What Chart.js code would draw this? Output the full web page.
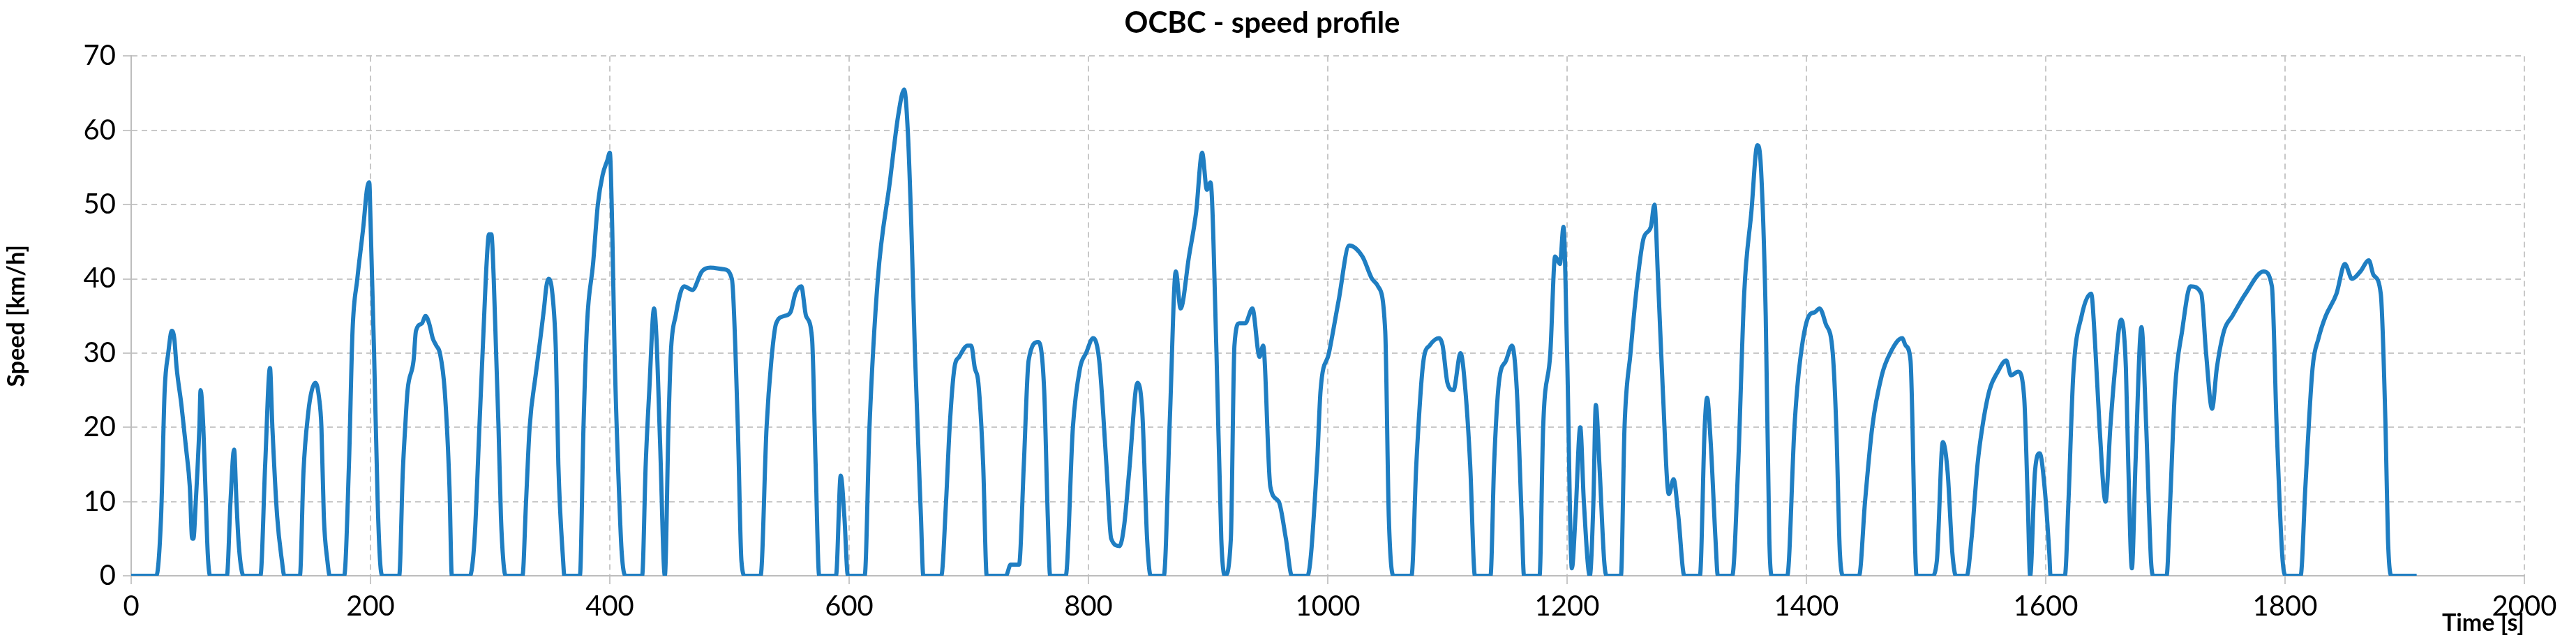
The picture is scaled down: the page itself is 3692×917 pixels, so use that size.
<!DOCTYPE html>
<html>
<head>
<meta charset="utf-8">
<script src="https://cdn.jsdelivr.net/npm/chart.js@4/dist/chart.umd.min.js"></script>
<style>
  html, body { margin: 0; padding: 0; background: #fff; }
  #wrap { width: 3692px; height: 917px; }
</style>
</head>
<body>
<div id="wrap"><canvas id="c"></canvas></div>
<script>
// time [s] and speed [km/h]
const times = [
  0, 21, 25, 28, 31, 34, 36, 38, 42, 46, 49, 51, 52, 54, 57, 58, 60, 62, 64, 66,
  80, 83, 86, 88, 90, 94, 108, 112, 116, 118, 122, 126, 128, 141, 144, 148, 151, 154, 157, 159, 161, 164, 166,
  178, 182, 185, 189, 194, 197, 199, 200, 203, 206, 208, 210,
  224, 227, 229, 231, 236, 238, 243, 246, 249, 252, 255, 258, 262, 266, 268,
  283, 287, 291, 295, 297, 299, 301, 303, 307, 309, 311, 313,
  327, 330, 333, 338, 342, 345, 347, 349, 352, 355, 357, 361, 362,
  375, 378, 381, 386, 390, 394, 398, 400, 402, 404, 408, 410, 413,
  427, 430, 433, 437, 439, 442, 446, 449, 451, 455, 462, 469, 477, 484, 495, 502, 507, 510, 513,
  526, 531, 535, 539, 546, 551, 555, 560, 564, 569, 572, 575,
  589, 593, 596, 599, 613, 617, 624, 634, 641, 646, 649, 652, 655, 660, 662,
  677, 681, 684, 688, 692, 699, 702, 705, 708, 712, 715,
  731, 735, 742, 746, 750, 758, 763, 766, 768,
  781, 787, 793, 798, 804, 809, 815, 819, 826, 830, 834, 841, 845, 849, 852,
  863, 868, 873, 877, 884, 890, 895, 899, 902, 907, 911, 914, 919, 922, 926, 931, 937, 943, 946, 952, 959, 965, 970,
  983, 991, 994, 1001, 1009, 1018, 1029, 1037, 1042, 1048, 1051, 1055,
  1070, 1074, 1080, 1085, 1093, 1096, 1100, 1105, 1111, 1115, 1119, 1123,
  1136, 1139, 1143, 1149, 1154, 1158, 1162, 1164,
  1177, 1180, 1186, 1190, 1194, 1197, 1200, 1204, 1207, 1211, 1214, 1219, 1222, 1224, 1227, 1231, 1233,
  1245, 1248, 1253, 1259, 1264, 1270, 1273, 1276, 1280, 1285, 1289, 1293, 1298,
  1311, 1315, 1317, 1320, 1324, 1326,
  1338, 1343, 1348, 1354, 1359, 1362, 1366, 1369, 1371,
  1384, 1390, 1394, 1402, 1407, 1411, 1416, 1422, 1425, 1428, 1431,
  1444, 1449, 1455, 1463, 1470, 1480, 1483, 1487, 1491, 1492,
  1505, 1509, 1514, 1518, 1522, 1525,
  1534, 1538, 1543, 1547, 1553, 1560, 1567, 1571, 1577, 1582, 1585, 1587, 1591, 1595, 1599, 1603, 1604,
  1616, 1619, 1623, 1630, 1638, 1641, 1645, 1650, 1654, 1658, 1663, 1667, 1669, 1672, 1675, 1680, 1684, 1688, 1690,
  1701, 1704, 1708, 1714, 1721, 1730, 1734, 1739, 1743, 1749, 1756, 1767, 1782, 1789, 1793, 1798, 1801,
  1813, 1817, 1823, 1828, 1834, 1843, 1850, 1856, 1863, 1870, 1874, 1880, 1884, 1886, 1889, 1910
];
const speeds = [
  0, 0, 8, 25, 30, 33, 32, 28, 23, 17, 12, 5, 5, 10, 20, 25, 21, 12, 3, 0,
  0, 10, 17, 10, 4, 0, 0, 15, 28, 20, 8, 2, 0, 0, 14, 22, 25, 26, 24, 20, 8, 2, 0,
  0, 15, 33, 40, 47, 52, 53, 48, 30, 10, 2, 0,
  0, 14, 20, 25, 29, 33, 34, 35, 34, 32, 31, 30, 25, 12, 0,
  0, 5, 20, 35, 42, 46, 46, 40, 20, 8, 2, 0,
  0, 10, 20, 27, 32, 36, 39, 40, 38, 30, 15, 2, 0,
  0, 20, 34, 42, 50, 54, 56, 57, 47, 30, 10, 3, 0,
  0, 15, 25, 36, 32, 18, 0, 20, 30, 35, 39, 38.5, 41, 41.5, 41.3, 40, 20, 2, 0,
  0, 20, 29, 34, 35, 35.5, 38, 39, 35, 32, 15, 0,
  0, 13.5, 8, 0, 0, 20, 40, 53, 62, 65.5, 60, 47, 30, 8, 0,
  0, 10, 20, 28, 29.5, 31, 31, 28, 26, 15, 0,
  0, 1.5, 1.5, 15, 29, 31.5, 25, 8, 0,
  0, 20, 28, 30, 32, 29, 15, 5, 4, 7, 14, 26, 22, 5, 0,
  0, 21, 41, 36, 43, 49, 57, 52, 53, 30, 5, 0, 5, 31, 34, 34, 36, 29.5, 31, 12, 10, 5, 0,
  0, 15, 25, 30, 37, 44.5, 43, 40, 39, 33, 8, 0,
  0, 15, 29, 31, 32, 31, 26, 25, 30, 25, 15, 0,
  0, 15, 26, 29, 31, 25, 8, 0,
  0, 20, 30, 43, 42, 47, 30, 1, 8, 20, 10, 0, 10, 23, 15, 2, 0,
  0, 20, 30, 40, 45.5, 47, 50, 40, 25, 11, 13, 8, 0,
  0, 20, 24, 18, 5, 0,
  0, 15, 38, 49, 58, 55, 35, 5, 0,
  0, 20, 28, 35, 35.5, 36, 34, 30, 20, 3, 0,
  0, 10, 20, 27, 30, 32, 31, 29, 3, 0,
  0, 2, 18, 14, 3, 0,
  0, 5, 15, 20, 25, 27.5, 29, 27, 27.5, 24, 10, 0, 14, 16.5, 12, 3, 0,
  0, 10, 27, 35, 38, 32, 20, 10, 20, 28, 34.5, 28, 15, 1, 15, 33.5, 20, 2, 0,
  0, 10, 25, 33, 39, 38, 30, 22.5, 28, 33, 35, 38, 41, 39, 20, 2, 0,
  0, 12, 28, 32, 35, 38, 42, 40, 41, 42.5, 40.5, 38, 20, 5, 0, 0
];
const xTicks = [0, 200, 400, 600, 800, 1000, 1200, 1400, 1600, 1800, 2000];

const points = times.map((t, i) => ({ x: t, y: speeds[i] }));
const font = 'Lato, "Open Sans", sans-serif';
const grid = { color: '#c8c8c8', lineWidth: 2, tickLength: 12 };

new Chart(document.getElementById('c'), {
  type: 'scatter',
  data: {
    datasets: [{
      data: points,
      showLine: true,
      borderColor: '#1f7ec2',
      borderWidth: 6,
      pointRadius: 0,
      cubicInterpolationMode: 'monotone'
    }]
  },
  options: {
    responsive: true,
    maintainAspectRatio: false,
    animation: false,
    layout: { padding: { left: 0, right: 74, top: 4, bottom: 0 } },
    plugins: {
      legend: { display: false },
      tooltip: { enabled: false },
      title: {
        display: true,
        text: 'OCBC - speed profile',
        color: '#000',
        font: { family: font, size: 42, weight: 'bold' },
        padding: { top: 4, bottom: 22 }
      }
    },
    scales: {
      x: {
        type: 'linear',
        min: 0, max: 2000,
        afterBuildTicks: s => { s.ticks = xTicks.map(v => ({ value: v })); },
        afterFit: s => { s.height = 92; },
        grid: grid,
        border: { display: true, color: '#bdbdbd', width: 2, dash: [8, 6] },
        ticks: { color: '#000', font: { family: font, size: 40 }, padding: 8, maxRotation: 0,
                 callback: v => String(v) },
        title: {
          display: true, text: 'Time [s]', align: 'end', color: '#000',
          font: { family: font, size: 34, weight: 'bold' }, padding: { top: -6 }
        }
      },
      y: {
        min: 0, max: 70,
        afterFit: s => { s.width = 188; },
        ticks: { stepSize: 10, color: '#000', font: { family: font, size: 40 }, padding: 10,
                 callback: v => String(v) },
        grid: grid,
        border: { display: true, color: '#bdbdbd', width: 2, dash: [8, 6] },
        title: {
          display: true, text: 'Speed [km/h]', color: '#000',
          font: { family: font, size: 34, weight: 'bold' }, padding: { bottom: 14 }
        }
      }
    }
  }
});
</script>
</body>
</html>
